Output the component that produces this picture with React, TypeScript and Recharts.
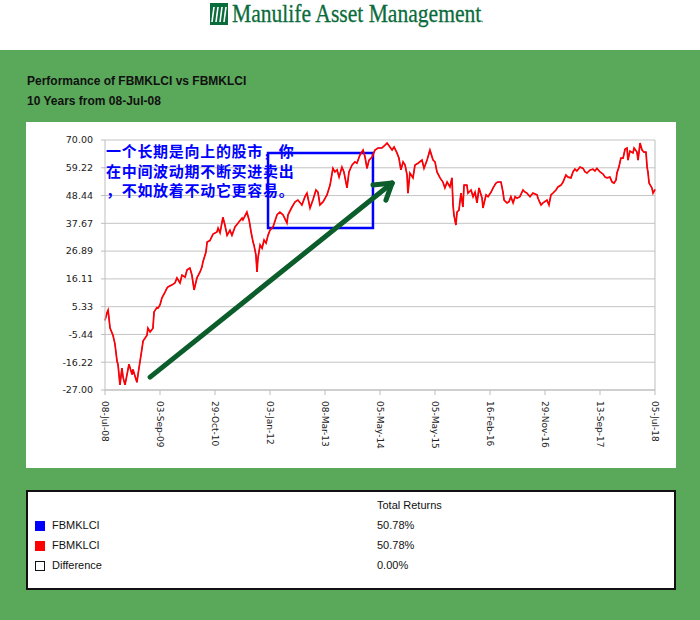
import React from 'react'
import {
  LineChart,
  Line,
  XAxis,
  YAxis,
  CartesianGrid,
  ReferenceLine,
  ReferenceArea
} from 'recharts'

// trading-day index from 08-Jul-08 (0) to 05-Jul-18 (2500)
const days = [
  0, 9, 14, 23, 36, 45, 55, 59, 68, 77, 82, 91, 100, 109, 123, 127, 145, 150, 159, 168,
  173, 191, 195, 205, 218, 223, 236, 241, 250, 259, 273, 282, 286, 305, 318, 327, 341, 350, 364, 373,
  386, 395, 405, 418, 432, 441, 445, 459, 464, 477, 491, 509, 514, 523, 536, 545, 555, 568, 577, 591,
  605, 623, 627, 645, 655, 664, 673, 677, 686, 691, 695, 705, 714, 723, 732, 741, 750, 764, 782, 795,
  809, 827, 832, 850, 864, 877, 895, 909, 918, 932, 945, 959, 968, 977, 991, 1009, 1023, 1036, 1045, 1055,
  1064, 1077, 1086, 1100, 1109, 1123, 1136, 1145, 1159, 1173, 1182, 1191, 1200, 1214, 1227, 1241, 1259, 1273, 1282, 1295,
  1305, 1314, 1327, 1336, 1345, 1355, 1364, 1373, 1377, 1386, 1400, 1409, 1423, 1441, 1450, 1464, 1477, 1491, 1500, 1509,
  1523, 1536, 1545, 1555, 1568, 1577, 1582, 1586, 1595, 1600, 1609, 1618, 1627, 1632, 1645, 1650, 1664, 1673, 1682, 1691,
  1700, 1714, 1718, 1732, 1741, 1755, 1764, 1777, 1786, 1800, 1809, 1814, 1827, 1836, 1845, 1855, 1864, 1873, 1886, 1900,
  1909, 1918, 1932, 1945, 1964, 1968, 1982, 1991, 2009, 2018, 2027, 2036, 2050, 2059, 2073, 2082, 2095, 2105, 2118, 2127,
  2136, 2145, 2159, 2173, 2182, 2191, 2205, 2218, 2227, 2236, 2250, 2264, 2273, 2282, 2295, 2305, 2314, 2323, 2327, 2336,
  2345, 2355, 2364, 2373, 2377, 2386, 2400, 2405, 2418, 2423, 2432, 2441, 2450, 2459, 2464, 2468, 2473, 2486, 2491, 2500
]

// cumulative return (%) of FBMKLCI
const fbmklci = [
  0, 3, 4, -3, -5.7, -9, -16, -17, -25, -18.5, -22, -25, -21, -17, -21, -19, -24, -21, -16, -11,
  -8, -5.7, -3, -4.5, -3, 3.3, 5, 4.8, 6, 8.8, 11, 12.6, 13, 13.8, 14.5, 16.5, 14.5, 17.6, 16.8, 19.6,
  20.3, 17.6, 11.8, 16.5, 18.8, 20.8, 22.7, 26.5, 30.4, 31, 33.5, 34.3, 35.8, 34, 40, 37, 33, 35, 33, 36.3,
  37.8, 39.7, 39, 42, 39, 34.3, 30.4, 29.3, 25.4, 18.8, 24, 29.3, 28, 31.2, 30, 33, 35, 36.3, 41, 42,
  41, 37.8, 41, 44, 46, 46.7, 44.8, 48, 49.4, 43.6, 46.7, 50.6, 49.8, 44.8, 46, 48.7, 52.5, 59, 57.6, 58.4,
  55.6, 59.5, 57.6, 51.4, 57.6, 60.3, 61.5, 61, 64.2, 66.1, 63.4, 59, 62.2, 63.4, 66.1, 66.9, 66.9, 68, 68.8, 67.3,
  66.1, 67.3, 65, 63, 58.4, 61.5, 60.3, 56.4, 49.4, 57.2, 55.3, 60.3, 61, 62.2, 59, 62.2, 66.1, 62.2, 61.5, 57.6,
  55.3, 53.7, 51.4, 53.7, 51.8, 55.3, 44.8, 40.9, 37, 42, 42.8, 49.4, 44, 52.5, 52.5, 49.4, 50.6, 48, 49.8, 45.6,
  51.4, 47.4, 43.6, 48.7, 48, 49.8, 51.4, 53.3, 53.7, 53.7, 49.8, 46.7, 45.6, 46, 48, 45.6, 48, 47.4, 48, 50.6,
  49.8, 49.4, 48, 49.4, 48.7, 47.4, 44.8, 45.6, 46.7, 44.8, 48.7, 49.4, 50.6, 51.8, 52.5, 53.7, 56.4, 55.6, 55.3, 57.6,
  58.7, 58, 59.5, 59, 57.6, 57.2, 58.4, 58.7, 58, 59, 57.6, 56.8, 55.6, 55.3, 55.6, 53.7, 53.3, 54.5, 57.2, 59.5,
  63, 63, 66.5, 66.9, 62.2, 65.7, 65, 66.9, 65.3, 62.2, 68.8, 66.1, 65.3, 65.3, 59.5, 57.6, 53.3, 51.4, 49.4, 50.78
]

const xTicks = [0, 250, 500, 750, 1000, 1250, 1500, 1750, 2000, 2250, 2500]
const xLabels = [
  '08-Jul-08', '03-Sep-09', '29-Oct-10', '03-Jan-12', '08-Mar-13', '05-May-14',
  '05-May-15', '16-Feb-16', '29-Nov-16', '13-Sep-17', '05-Jul-18'
]
const yTicks = [70, 59.22, 48.44, 37.67, 26.89, 16.11, 5.33, -5.44, -16.22, -27]

const legendRows = [
  { name: 'FBMKLCI', color: '#0000ff', value: '50.78%' },
  { name: 'FBMKLCI', color: '#ff0000', value: '50.78%' },
  { name: 'Difference', color: null, value: '0.00%' }
]

const noteLines = ['一个长期是向上的股市，你', '在中间波动期不断买进卖出', '，不如放着不动它更容易。']

// hand-drawn annotation, in chart coordinates
const noteBox = { x1: 741, x2: 1218, y1: 35.9, y2: 65 }
const arrowFrom = { x: 205, y: -22 }
const arrowTip = { x: 1305, y: 53.3 }
const arrowBarbs = [
  { x: 1218, y: 52.5 },
  { x: 1277, y: 46.7 }
]

const chartData = days.map((d, i) => ({ day: d, blue: fbmklci[i], red: fbmklci[i] }))

const GREEN = '#5aa85a'
const ARROW = '#0b5e2b'

// eslint-disable-next-line @typescript-eslint/no-explicit-any
const XTick = ({ x, y, payload }: any) => {
  const idx = xTicks.indexOf(payload.value)
  return (
    <text
      x={x}
      y={y + 4}
      transform={`rotate(90, ${x}, ${y + 4})`}
      textAnchor="start"
      dominantBaseline="central"
      fontSize={9}
      fontFamily="'DejaVu Sans', Verdana, sans-serif"
      fill="#222"
    >
      {xLabels[idx]}
    </text>
  )
}

function Logo(): React.JSX.Element {
  return (
    <div style={{ position: 'absolute', left: 0, top: 0, width: 700, height: 50, background: '#fff' }}>
      <svg style={{ position: 'absolute', left: 210, top: 3 }} width={18} height={22}>
        <rect x={0} y={0} width={18} height={22} fill="#0a6b3b" />
        {[3, 7, 11, 15].map((sx) => (
          <line key={sx} x1={sx + 1} y1={4} x2={sx - 1} y2={19} stroke="#fff" strokeWidth={1.6} />
        ))}
      </svg>
      <div
        style={{
          position: 'absolute',
          left: 232,
          top: -1,
          fontFamily: "'Liberation Serif', 'Times New Roman', serif",
          fontSize: 26,
          color: '#0a6b3b',
          whiteSpace: 'nowrap',
          transform: 'scaleX(0.83)',
          transformOrigin: 'left top',
          WebkitTextStroke: '0.3px #0a6b3b'
        }}
      >
        Manulife Asset Management<span style={{ fontSize: 8 }}>.</span>
      </div>
    </div>
  )
}

export default function App(): React.JSX.Element {
  return (
    <div
      style={{
        position: 'absolute',
        left: 0,
        top: 0,
        width: 700,
        height: 620,
        background: GREEN,
        fontFamily: "'Liberation Sans', Arial, sans-serif",
        overflow: 'hidden'
      }}
    >
      <Logo />

      <div style={{ position: 'absolute', left: 27, top: 74, fontSize: 12, fontWeight: 'bold', color: '#111' }}>
        Performance of FBMKLCI vs FBMKLCI
      </div>
      <div style={{ position: 'absolute', left: 27, top: 94, fontSize: 12, fontWeight: 'bold', color: '#111' }}>
        10 Years from 08-Jul-08
      </div>

      {/* panneau du graphique */}
      <div style={{ position: 'absolute', left: 26, top: 122, width: 650, height: 346, background: '#fff' }}>
        <LineChart
          width={650}
          height={346}
          data={chartData}
          margin={{ top: 18, right: 21, left: 0, bottom: 18 }}
        >
          <CartesianGrid vertical={false} stroke="#c4c4c4" />
          <XAxis
            dataKey="day"
            type="number"
            domain={[0, 2500]}
            ticks={xTicks}
            interval={0}
            height={60}
            stroke="#bdbdbd"
            tickSize={5}
            tick={<XTick />}
          />
          <YAxis
            type="number"
            domain={[-27, 70]}
            ticks={yTicks}
            interval={0}
            width={79}
            stroke="#bdbdbd"
            tickSize={4}
            tickMargin={8}
            tickFormatter={(v: number) => v.toFixed(2)}
            tick={{ fontSize: 9.5, fill: '#222', fontFamily: "'DejaVu Sans', Verdana, sans-serif" }}
          />
          <ReferenceLine x={2500} stroke="#bdbdbd" />

          <Line
            type="linear"
            dataKey="blue"
            stroke="#0000ff"
            strokeWidth={0.8}
            dot={false}
            isAnimationActive={false}
          />
          <Line
            type="linear"
            dataKey="red"
            stroke="#ff0000"
            strokeWidth={1.7}
            dot={false}
            isAnimationActive={false}
          />

          {/* annotation : cadre bleu + flèche verte */}
          <ReferenceArea
            x1={noteBox.x1}
            x2={noteBox.x2}
            y1={noteBox.y1}
            y2={noteBox.y2}
            fill="none"
            fillOpacity={0}
            stroke="#0000ff"
            strokeWidth={2.5}
            ifOverflow="visible"
          />
          <ReferenceLine
            segment={[arrowFrom, arrowTip]}
            stroke={ARROW}
            strokeWidth={5}
            strokeLinecap="round"
            ifOverflow="visible"
          />
          {arrowBarbs.map((b, i) => (
            <ReferenceLine
              key={i}
              segment={[arrowTip, b]}
              stroke={ARROW}
              strokeWidth={5}
              strokeLinecap="round"
              ifOverflow="visible"
            />
          ))}
        </LineChart>
      </div>

      <div
        style={{
          position: 'absolute',
          left: 106,
          top: 141,
          fontFamily: "'Noto Sans CJK SC', sans-serif",
          fontSize: 15,
          letterSpacing: '0.7px',
          lineHeight: '19.5px',
          fontWeight: 'bold',
          color: '#0000ff',
          whiteSpace: 'nowrap'
        }}
      >
        {noteLines.map((l, i) => (
          <div key={i}>{l}</div>
        ))}
      </div>

      {/* tableau des rendements */}
      <div
        style={{
          position: 'absolute',
          left: 26,
          top: 490,
          width: 646,
          height: 96,
          background: '#fff',
          border: '2px solid #111',
          fontSize: 11,
          color: '#111'
        }}
      >
        <div style={{ position: 'absolute', left: 349, top: 7 }}>Total Returns</div>
        {legendRows.map((r, i) => (
          <div key={i} style={{ position: 'absolute', left: 0, top: 27 + i * 20, width: '100%', height: 14 }}>
            <div
              style={{
                position: 'absolute',
                left: 7,
                top: 2,
                width: r.color ? 10 : 8,
                height: r.color ? 10 : 8,
                background: r.color ?? '#fff',
                border: r.color ? 'none' : '1px solid #111'
              }}
            />
            <div style={{ position: 'absolute', left: 24, top: 0 }}>{r.name}</div>
            <div style={{ position: 'absolute', left: 349, top: 0 }}>{r.value}</div>
          </div>
        ))}
      </div>
    </div>
  )
}
